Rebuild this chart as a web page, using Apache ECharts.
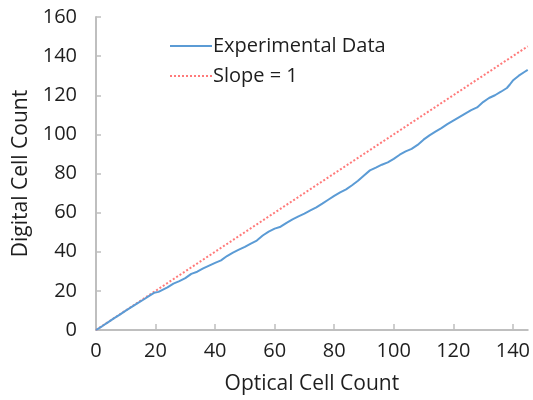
<!DOCTYPE html>
<html>
<head>
<meta charset="utf-8">
<script src="https://cdn.jsdelivr.net/npm/echarts@6/dist/echarts.min.js"></script>
<style>html,body{margin:0;padding:0;background:#fff;}#c{width:533px;height:400px;}</style>
</head>
<body>
<div id="c"></div>
<script>
var xTicks = [0, 20, 40, 60, 80, 100, 120, 140];
var experimentalX = [0,2,4,6,8,10,12,14,16,18,19.5,21,22,24,26,28,30,32,34,36,38,40,42,44,46,48,50,52,54,56,58,60,62,64,66,68,70,72,74,76,78,80,82,84,86,88,90,92,94,96,98,100,102,104,106,108,110,112,114,116,118,120,122,124,126,128,130,132,134,136,138,139,140,142,144,145];
var experimentalY = [0,1.9,3.9,5.9,7.9,9.9,11.8,13.7,15.6,17.6,19,19.5,20.3,21.8,23.7,25,26.5,28.7,29.8,31.5,32.9,34.3,35.6,37.8,39.6,41.1,42.5,44.2,45.7,48.3,50.3,51.8,52.8,54.8,56.6,58.1,59.5,61.1,62.7,64.6,66.6,68.6,70.4,71.9,74,76.3,79,81.6,83,84.5,85.7,87.5,89.6,91.3,92.6,94.6,97.3,99.5,101.4,103.2,105.2,107,108.8,110.6,112.4,113.8,116.5,118.6,120,121.8,123.7,125.5,127.5,130,132,133];
var slopeX = [0, 145];
var slopeY = [0, 145];

var expData = experimentalX.map(function(x, i){ return [x, experimentalY[i]]; });
var slopeData = slopeX.map(function(x, i){ return [x, slopeY[i]]; });

var font = 'Open Sans';
var txt = '#1e1e1e';
var axisColor = '#bfbfbf';
var chart = echarts.init(document.getElementById('c'), null, {renderer: 'canvas'});
chart.setOption({
  animation: false,
  backgroundColor: '#fff',
  grid: {left: 96, right: 2, top: 17, bottom: 67, containLabel: false},
  legend: {
    orient: 'vertical', left: 164, top: 31, itemWidth: 42, itemHeight: 14, itemGap: 10,
    itemStyle: {opacity: 0},
    textStyle: {fontFamily: font, fontSize: 20, color: txt, padding: [0,0,0,-4]},
    data: ['Experimental Data', 'Slope = 1']
  },
  xAxis: {
    type: 'value', min: 0, max: 145, interval: 20,
    name: 'Optical Cell Count', nameLocation: 'middle', nameGap: 44,
    nameTextStyle: {fontFamily: font, fontSize: 21, color: txt},
    axisLine: {show: true, lineStyle: {color: axisColor, width: 2}},
    axisTick: {show: true, inside: true, length: 6, lineStyle: {color: axisColor, width: 1.5}, customValues: xTicks},
    axisLabel: {fontFamily: font, fontSize: 20, color: txt, margin: 11, customValues: xTicks},
    splitLine: {show: false}
  },
  yAxis: {
    type: 'value', min: 0, max: 160, interval: 20,
    name: 'Digital Cell Count', nameLocation: 'middle', nameGap: 62,
    nameTextStyle: {fontFamily: font, fontSize: 21, color: txt},
    axisLine: {show: true, lineStyle: {color: axisColor, width: 2}},
    axisTick: {show: true, inside: true, length: 5, lineStyle: {color: axisColor, width: 1.5}},
    axisLabel: {fontFamily: font, fontSize: 20, color: txt, margin: 19},
    splitLine: {show: false}
  },
  series: [
    {name: 'Experimental Data', type: 'line', data: expData, symbol: 'none', smooth: false,
     lineStyle: {color: '#5b9bd5', width: 2}, itemStyle: {color: '#5b9bd5'}, z: 3},
    {name: 'Slope = 1', type: 'line', data: slopeData, symbol: 'none',
     lineStyle: {color: '#ff7a7a', width: 2, type: 'dotted'}, itemStyle: {color: '#ff7a7a'}, z: 2}
  ]
});
</script>
</body>
</html>
